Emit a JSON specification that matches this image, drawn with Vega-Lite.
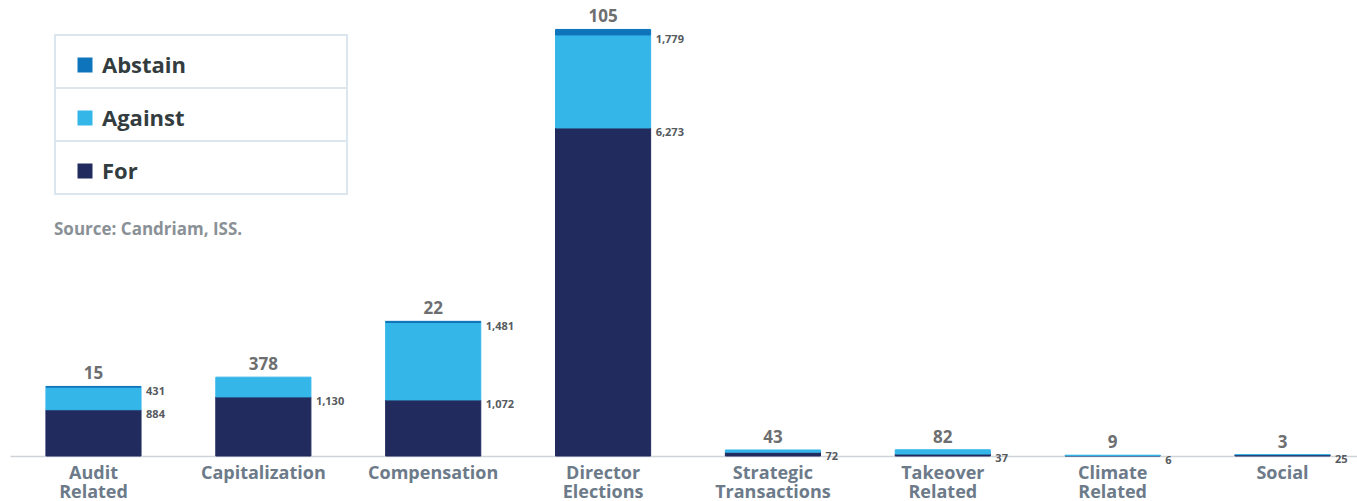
{
  "$schema": "https://vega.github.io/schema/vega-lite/v6.json",
  "width": 1347,
  "height": 456,
  "padding": {"left": 10, "top": 0, "right": 0, "bottom": 45},
  "autosize": {"type": "none"},
  "background": "white",
  "config": {"view": {"stroke": null}, "font": "Open Sans"},
  "title": {
    "text": "Source: Candriam, ISS.",
    "anchor": "start",
    "frame": "group",
    "orient": "top",
    "offset": 0,
    "dx": 44,
    "dy": 252,
    "baseline": "alphabetic",
    "fontSize": 17,
    "fontWeight": 700,
    "color": "#8a9196",
    "font": "Open Sans"
  },
  "data": {
    "values": [
      {"category": "Audit Related", "vote": "For", "value": 884},
      {"category": "Audit Related", "vote": "Against", "value": 431},
      {"category": "Audit Related", "vote": "Abstain", "value": 15},
      {"category": "Capitalization", "vote": "For", "value": 1130},
      {"category": "Capitalization", "vote": "Against", "value": 378},
      {"category": "Compensation", "vote": "For", "value": 1072},
      {"category": "Compensation", "vote": "Against", "value": 1481},
      {"category": "Compensation", "vote": "Abstain", "value": 22},
      {"category": "Director Elections", "vote": "For", "value": 6273},
      {"category": "Director Elections", "vote": "Against", "value": 1779},
      {"category": "Director Elections", "vote": "Abstain", "value": 105},
      {"category": "Strategic Transactions", "vote": "For", "value": 72},
      {"category": "Strategic Transactions", "vote": "Against", "value": 43},
      {"category": "Takeover Related", "vote": "For", "value": 37},
      {"category": "Takeover Related", "vote": "Against", "value": 82},
      {"category": "Climate Related", "vote": "For", "value": 6},
      {"category": "Climate Related", "vote": "Against", "value": 9},
      {"category": "Social", "vote": "For", "value": 25},
      {"category": "Social", "vote": "Against", "value": 3}
    ]
  },
  "transform": [
    {"stack": "value", "groupby": ["category"], "sort": [{"field": "vote", "order": "descending"}], "as": ["v0", "v1"]},
    {"joinaggregate": [{"op": "max", "field": "v1", "as": "top"}], "groupby": ["category"]}
  ],
  "encoding": {
    "x": {
      "field": "category",
      "type": "nominal",
      "sort": ["Audit Related", "Capitalization", "Compensation", "Director Elections", "Strategic Transactions", "Takeover Related", "Climate Related", "Social"],
      "scale": {"paddingInner": 0.44, "paddingOuter": 0.185, "align": 0.5716},
      "axis": {
        "title": null,
        "labelExpr": "split(datum.label, ' ')",
        "labelFontSize": 18,
        "labelFontWeight": 700,
        "labelColor": "#6c7a89",
        "labelFont": "Open Sans",
        "labelAngle": 0,
        "labelPadding": 8,
        "labelLineHeight": 19,
        "ticks": false,
        "domainColor": "#d0d4d8",
        "domainWidth": 1.5
      }
    }
  },
  "layer": [
    {
      "mark": {"type": "bar", "strokeWidth": 1},
      "encoding": {
        "y": {"field": "v0", "type": "quantitative", "scale": {"domain": [0, 8720], "nice": false}, "axis": null},
        "y2": {"field": "v1"},
        "stroke": {"field": "vote", "type": "nominal", "scale": {"domain": ["Abstain", "Against", "For"], "range": ["#0E74BC", "#35B6E9", "#212B5E"]}, "legend": null},
        "color": {
          "field": "vote",
          "type": "nominal",
          "scale": {"domain": ["Abstain", "Against", "For"], "range": ["#0E74BC", "#35B6E9", "#212B5E"]},
          "legend": {
            "orient": "none",
            "legendX": 45,
            "legendY": 35,
            "title": null,
            "direction": "vertical",
            "columns": 1,
            "symbolType": "square",
            "symbolSize": 225,
            "symbolStrokeWidth": 0,
            "labelFontSize": 22,
            "labelFont": "Open Sans",
            "labelFontWeight": 700,
            "labelColor": "#333d40",
            "labelLimit": 600,
            "labelExpr": "[datum.label + '\u200b                            \u200b', '\u200b']",
            "padding": 0,
            "rowPadding": 0,
            "encode": {
              "entries": {"update": {"stroke": {"value": "#dce6ee"}, "strokeWidth": {"value": 2}, "fill": {"value": "white"}}},
              "symbols": {"update": {"x": {"value": 30}, "y": {"value": 30}, "fill": {"signal": "datum.label === 'For' ? '#3a4143' : scale('color', datum.value)"}}},
              "labels": {"update": {"x": {"value": 47}, "y": {"value": 38}, "baseline": {"value": "alphabetic"}, "lineHeight": {"value": 10}}}
            }
          }
        }
      }
    },
    {
      "transform": [{"filter": "datum.v1 == datum.top"}],
      "mark": {"type": "text", "baseline": "bottom", "dy": -3, "fontSize": 17, "fontWeight": 700, "color": "#6d6e70", "font": "Open Sans"},
      "encoding": {
        "y": {"field": "v1", "type": "quantitative"},
        "text": {"field": "value", "type": "quantitative", "format": ","}
      }
    },
    {
      "transform": [{"filter": "datum.v1 < datum.top"}],
      "mark": {"type": "text", "align": "left", "baseline": "middle", "dx": 5, "dy": 5, "fontSize": 11, "fontWeight": 700, "color": "#555a5e", "font": "Open Sans"},
      "encoding": {
        "x": {"field": "category", "type": "nominal", "sort": ["Audit Related", "Capitalization", "Compensation", "Director Elections", "Strategic Transactions", "Takeover Related", "Climate Related", "Social"], "bandPosition": 1},
        "y": {"field": "v1", "type": "quantitative"},
        "text": {"field": "value", "type": "quantitative", "format": ","}
      }
    }
  ]
}
